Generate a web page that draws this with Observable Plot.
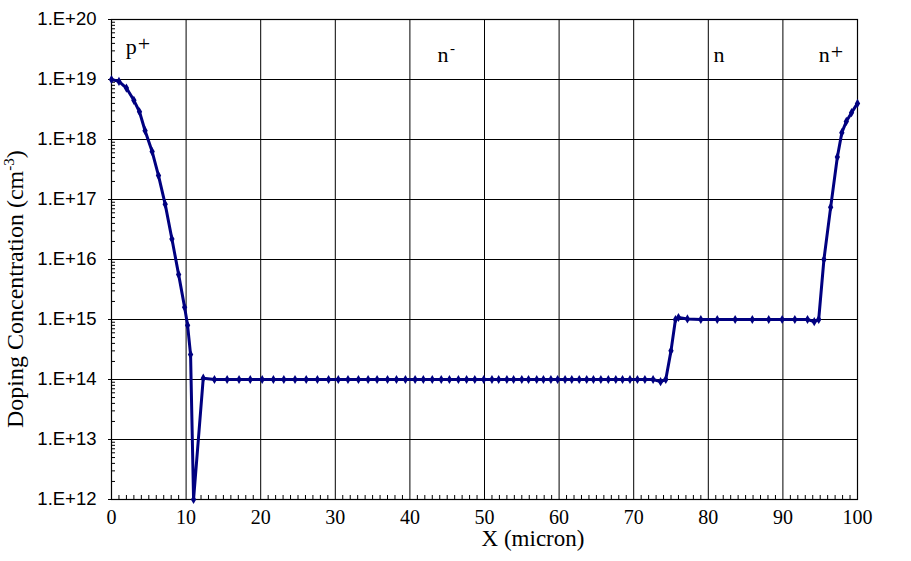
<!DOCTYPE html>
<html><head><meta charset="utf-8">
<script src="https://cdn.jsdelivr.net/npm/d3@7"></script>
<script src="https://cdn.jsdelivr.net/npm/@observablehq/plot@0.6"></script>
<style>body{margin:0;background:#fff}</style>
</head><body><div id="chart"></div>
<script>
// Depth (micron) and doping concentration (cm^-3)
const xMicron = [
  0, 1.0, 2.0, 3.0, 3.75, 4.5, 5.45, 6.3, 7.2, 8.1, 9.0, 9.8, 10.2, 10.6, 11.0,
  12.3, 13.8, 15.5, 17.1, 18.6, 20.2, 21.7, 23.1, 24.6, 26.1, 27.6, 29.1, 30.4, 31.7,
  33.1, 34.4, 35.6, 37.0, 38.2, 39.4, 40.7, 41.8, 43.0, 44.2, 45.3, 46.5, 47.6, 48.7,
  49.9, 51.0, 51.9, 53.0, 53.9, 55.0, 55.9, 57.0, 57.9, 58.9, 59.8, 60.8, 61.7, 62.7,
  63.7, 64.6, 65.6, 66.6, 67.6, 68.5, 69.5, 70.5, 71.5, 72.6, 73.6, 74.3, 75.0, 75.6,
  76.0, 77.2, 79.0, 81.2, 83.6, 85.9, 88.1, 89.9, 91.6, 93.3, 94.2, 94.8, 95.5, 96.4,
  97.3, 97.9, 98.5, 99.2, 100
];
const doping = [
  1.0e19, 9.3e18, 7.2e18, 4.5e18, 2.9e18, 1.4e18, 6.3e17, 2.5e17, 8.3e16, 2.2e16, 5.6e15, 1.6e15, 8.0e14, 2.6e14, 1.0e12,
  1.05e14, 1.0e14, 1.0e14, 1.0e14, 1.0e14, 1.0e14, 1.0e14, 1.0e14, 1.0e14, 1.0e14, 1.0e14, 1.0e14, 1.0e14, 1.0e14,
  1.0e14, 1.0e14, 1.0e14, 1.0e14, 1.0e14, 1.0e14, 1.0e14, 1.0e14, 1.0e14, 1.0e14, 1.0e14, 1.0e14, 1.0e14, 1.0e14,
  1.0e14, 1.0e14, 1.0e14, 1.0e14, 1.0e14, 1.0e14, 1.0e14, 1.0e14, 1.0e14, 1.0e14, 1.0e14, 1.0e14, 1.0e14, 1.0e14,
  1.0e14, 1.0e14, 1.0e14, 1.0e14, 1.0e14, 1.0e14, 1.0e14, 1.0e14, 1.0e14, 1.0e14, 9.2e13, 1.0e14, 3.0e14, 1.0e15,
  1.08e15, 1.02e15, 1.0e15, 1.0e15, 1.0e15, 1.0e15, 1.0e15, 1.0e15, 1.0e15, 1.0e15, 9.2e14, 1.0e15, 1.0e16, 7.4e16,
  5.1e17, 1.3e18, 2.0e18, 2.8e18, 4.0e18
];
const xTicks = [0, 10, 20, 30, 40, 50, 60, 70, 80, 90, 100];
const yTicks = [1e12, 1e13, 1e14, 1e15, 1e16, 1e17, 1e18, 1e19, 1e20];
const regionBase = ["p", "n", "n", "n"];
const regionSup = ["+", "-", "", "+"];
const regionX = [1.9, 43.7, 80.7, 94.8];
const regionY = [2.7e19, 1.95e19, 1.95e19, 1.95e19];

const W = 911, H = 561, mL = 111, mR = 54, mT = 19, mB = 62;
const minorX = d3.range(1, 100).filter(v => v % 10 !== 0);
const minorY = [];
for (let e = 12; e < 20; e++) for (let k = 2; k <= 9; k++) minorY.push(k * Math.pow(10, e));
const idx = d3.range(xMicron.length);
const rIdx = d3.range(regionBase.length);
const plusIdx = rIdx.filter(i => regionSup[i] === "+");
const minusIdx = rIdx.filter(i => regionSup[i] === "-");
const serif = "'Liberation Serif', 'Times New Roman', serif";
const sans = "'Liberation Sans', Arial, sans-serif";

const svg = Plot.plot({
  width: W, height: H,
  marginLeft: mL, marginRight: mR, marginTop: mT, marginBottom: mB,
  style: {background: "#fff", color: "#000", overflow: "visible", fontFamily: serif},
  x: {domain: [0, 100]},
  y: {type: "log", domain: [1e12, 1e20]},
  marks: [
    Plot.ruleX(xTicks, {stroke: "#000", strokeWidth: 1}),
    Plot.ruleY(yTicks, {stroke: "#000", strokeWidth: 1}),
    Plot.ruleX(minorX, {stroke: "#000", insetTop: H - mT - mB - 4}),
    Plot.ruleY(minorY, {stroke: "#000", insetRight: W - mL - mR - 4}),
    Plot.frame({stroke: "#000", strokeWidth: 1.2}),
    Plot.axisX({ticks: xTicks, tickSize: 0, tickPadding: 10, tickFormat: d => String(d),
      fontSize: 20, label: null}),
    Plot.axisY({ticks: yTicks, tickSize: 3, tickPadding: 12,
      tickFormat: d => "1.E+" + Math.round(Math.log10(d)),
      fontSize: 18.5, label: null}),
    Plot.line(idx, {x: i => xMicron[i], y: i => doping[i], stroke: "#000080", strokeWidth: 3,
      strokeLinejoin: "round"}),
    Plot.dot(idx, {x: i => xMicron[i], y: i => doping[i], symbol: "diamond", r: 2.8,
      fill: "#000080", stroke: null}),
    Plot.text(rIdx, {x: i => regionX[i], y: i => regionY[i], text: i => regionBase[i],
      textAnchor: "start", lineAnchor: "bottom", fontSize: 22, fill: "#000"}),
    Plot.text(plusIdx, {x: i => regionX[i], y: i => regionY[i], text: i => regionSup[i],
      textAnchor: "start", lineAnchor: "bottom", dx: 12, dy: -3, fontSize: 22, fill: "#000"}),
    Plot.text(minusIdx, {x: i => regionX[i], y: i => regionY[i], text: i => regionSup[i],
      textAnchor: "start", lineAnchor: "bottom", dx: 12.5, dy: -9, fontSize: 15, fill: "#000"})
  ]
});

const s = d3.select(svg);
s.selectAll("text").style("font-family", serif);
s.selectAll('g[aria-label="y-axis tick label"] text').style("font-family", sans);
s.selectAll('g[aria-label="y-axis tick label"]').style("font-family", sans);
s.append("text")
  .attr("x", 533).attr("y", 546)
  .attr("text-anchor", "middle")
  .style("font-family", serif).attr("font-size", 23).attr("fill", "#000")
  .text("X (micron)");
const yt = s.append("text")
  .attr("transform", "translate(23,428) rotate(-90)")
  .attr("text-anchor", "start")
  .style("font-family", serif).attr("font-size", 24).attr("fill", "#000");
yt.append("tspan").text("Doping Concentration (cm");
yt.append("tspan").attr("dy", -9).attr("font-size", 15).text("-3");
yt.append("tspan").attr("dy", 9).text(")");

document.getElementById("chart").appendChild(svg);
</script>
</body></html>
